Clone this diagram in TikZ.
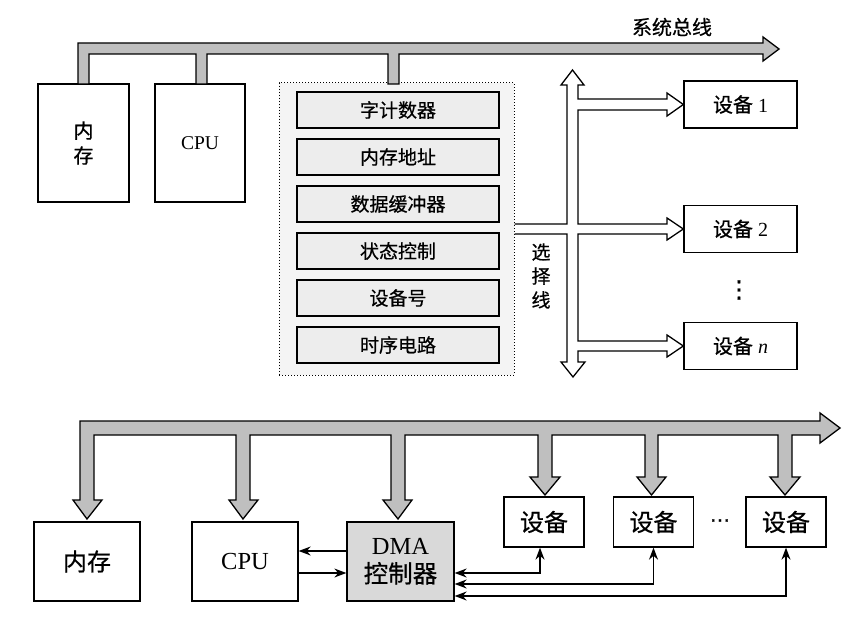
\documentclass[tikz,border=0pt]{standalone}
\usepackage{fontspec}
\setmainfont{Liberation Serif}
\newfontfamily\cjk[FakeBold=0.6]{Noto Sans CJK SC}
\newfontfamily\dejavu[FakeBold=1]{DejaVu Sans}
\usetikzlibrary{arrows.meta,calc}
\definecolor{huixian}{HTML}{BFBFBF}
\definecolor{huikuang}{HTML}{D9D9D9}
\definecolor{qianhui}{HTML}{EDEDED}
\definecolor{dihui}{HTML}{F4F4F4}
\tikzset{
  kuang/.style={rectangle, draw, line width=1.3pt, fill=white, align=center, inner sep=0pt},
  jicun/.style={rectangle, draw, line width=1.3pt, fill=qianhui, minimum width=202pt,
    minimum height=36pt, inner sep=0pt, font=\cjk\fontsize{19}{23}\selectfont},
  zongxian/.style={draw, line width=1.3pt, fill=huixian, line join=miter},
  xuanze/.style={draw, line width=1.3pt, line join=miter},
  jiantou/.style={-{Stealth[length=12pt, width=9pt]}, line width=1.3pt},
  jiantoubi/.style={{Stealth[length=12pt, width=9pt]}-{Stealth[length=12pt, width=9pt]}, line width=1.3pt},
}

\begin{document}
\begin{tikzpicture}[x=1pt, y=-1pt]
    \useasboundingbox (0,0) rectangle (860,623);
    % upper figure: DMA interface
    \node[kuang, minimum width=91pt, minimum height=118pt, font=\cjk\fontsize{20}{25}\selectfont] (mem) at (83.5,143) {内\\存};
    \node[kuang, minimum width=90pt, minimum height=118pt, font=\fontsize{19.5}{24}\selectfont] (cpu) at (200,143) {CPU};
    \node[rectangle, draw, dotted, line width=1pt, fill=dihui, minimum width=235pt, minimum height=292pt] (ctrl) at (396.5,229) {};
    \foreach \i/\name in {0/字计数器, 1/内存地址, 2/数据缓冲器, 3/状态控制, 4/设备号, 5/时序电路}{
      \node[jicun] (reg\i) at (398,110+47*\i) {\name};
    }
    \draw[zongxian] (78,84) -- (78,43) -- (763,43) -- (763,37) -- (779,49) -- (763,61) -- (763,54)
      -- (399,54) -- (399,84) -- (388,84) -- (388,54) -- (207,54) -- (207,84) -- (196,84)
      -- (196,54) -- (89,54) -- (89,84) -- cycle;
    \node[font=\cjk\fontsize{20}{24}\selectfont] (buslabel) at (672,27) {系统总线};
    % devices
    \node[kuang, minimum width=113pt, minimum height=47pt, font=\fontsize{20}{24}\selectfont] (dev1) at (740.5,104.5) {{\cjk 设备} 1};
    \node[kuang, minimum width=113pt, minimum height=47pt, font=\fontsize{20}{24}\selectfont] (dev2) at (740.5,229) {{\cjk 设备} 2};
    \node[kuang, minimum width=113pt, minimum height=47pt, font=\fontsize{20}{24}\selectfont] (dev3) at (740.5,346) {{\cjk 设备} \textit{n}};
    \node[font=\dejavu\fontsize{24}{28}\selectfont] (vdots) at (739,290) {⋮};
    % select line
    \draw[xuanze] ($(ctrl.east)+(0,-5)$) -- (567,224) -- (567,85) -- (561,85) -- (572.5,70) -- (584,85)
      -- (578,85) -- (578,99) -- (667,99) -- (667,93) -- (dev1.west) -- (667,116) -- (667,110)
      -- (578,110) -- (578,224) -- (667,224) -- (667,218) -- (dev2.west) -- (667,240) -- (667,234)
      -- (578,234) -- (578,341) -- (667,341) -- (667,335) -- (dev3.west) -- (667,357) -- (667,351)
      -- (578,351) -- (578,362) -- (585,362) -- (573,377) -- (561,362) -- (567,362) -- (567,234)
      -- ($(ctrl.east)+(0,5)$);
    \node[font=\cjk\fontsize{19}{24}\selectfont, align=center] (sel) at (541,276) {选\\择\\线};

    % lower figure: DMA with bus
    \node[kuang, minimum width=106pt, minimum height=79pt, font=\cjk\fontsize{24}{28}\selectfont] (mem2) at (87,561.5) {内存};
    \node[kuang, minimum width=106pt, minimum height=79pt, font=\fontsize{24.5}{28}\selectfont] (cpu2) at (245,561.5) {CPU};
    \node[kuang, fill=huikuang, minimum width=107pt, minimum height=79pt, font=\fontsize{24.5}{28}\selectfont] (dma) at (400.5,561.5) {DMA\\{\cjk 控制器}};
    \foreach \x/\n in {544/1, 653.5/2, 786/3}{
      \node[kuang, minimum width=80pt, minimum height=50pt, font=\cjk\fontsize{24}{28}\selectfont] (d\n) at (\x,522) {设备};
    }
    \node[font=\dejavu\fontsize{20}{24}\selectfont] (hdots) at (720,523) {⋯};
    \draw[zongxian] (87,519) -- (102,500) -- (94,500) -- (94,435) -- (236,435) -- (236,500) -- (229,500)
      -- (243,519) -- (258,500) -- (250,500) -- (250,435) -- (391,435) -- (391,500) -- (383,500)
      -- (398,519) -- (412,500) -- (405,500) -- (405,435) -- (538,435) -- (538,477) -- (530,477)
      -- (545,495) -- (560,477) -- (552,477) -- (552,435) -- (645,435) -- (645,477) -- (637,477)
      -- (651.5,495) -- (666,477) -- (658,477) -- (658,435) -- (778,435) -- (778,477) -- (770,477)
      -- (785,495) -- (800,477) -- (792,477) -- (792,435) -- (820,435) -- (820,443) -- (840,428)
      -- (820,413) -- (820,421) -- (80,421) -- (80,500) -- (73,500) -- cycle;
    % CPU and devices
    \draw[jiantou] ($(dma.west)+(0,-10.5)$) -- ($(cpu2.east)+(0,-10.5)$);
    \draw[jiantou] ($(cpu2.east)+(0,11.5)$) -- ($(dma.west)+(0,11.5)$);
    \draw[jiantoubi] ($(dma.east)+(0,11.5)$) -| ($(d1.south)+(-4,0)$);
    \draw[jiantoubi] ($(dma.east)+(0,22.5)$) -| (d2.south);
    \draw[jiantoubi] ($(dma.east)+(0,34.5)$) -| (d3.south);
\end{tikzpicture}
\end{document}
